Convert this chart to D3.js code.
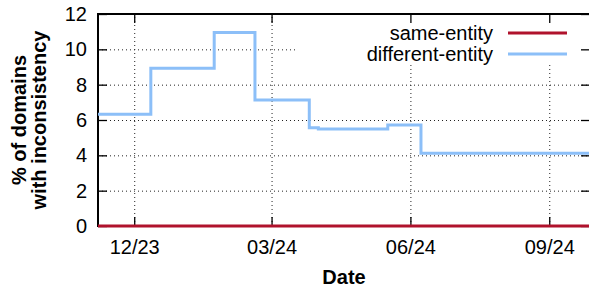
<!DOCTYPE html>
<html>
<head>
<meta charset="utf-8">
<script src="https://cdn.jsdelivr.net/npm/d3@7"></script>
<style>
  body { margin: 0; background: #fff; }
  text { font-family: "Liberation Sans", Arial, sans-serif; fill: #000; }
</style>
</head>
<body>
<div class="chart"></div>
<script>

// step change dates and values
var stepDates = ["2023-11-07", "2023-12-12", "2024-01-23", "2024-02-19", "2024-03-26", "2024-04-01", "2024-05-17", "2024-06-08", "2024-09-28"];
var differentEntity = [6.33, 8.93, 10.95, 7.13, 5.56, 5.49, 5.72, 4.12, 4.12];
var sameEntity = [0, 0, 0, 0, 0, 0, 0, 0, 0];

var seriesNames = ["same-entity", "different-entity"];
var seriesColors = ["#b0122c", "#8cbff8"];

var xTickDates = ["2023-12-01", "2024-03-01", "2024-06-01", "2024-09-01"];
var yTicks = [0, 2, 4, 6, 8, 10, 12];

var yTitle = ["% of domains", "with inconsistency"];
var xTitle = "Date";

var parse = d3.timeParse("%Y-%m-%d");

function drawChart() {

    var width = 589, height = 290;
    var left = 98, right = 590, top = 14, bottom = 226;

    var svg = d3.select(".chart").append("svg")
        .attr("width", width)
        .attr("height", height);

    var x = d3.scaleTime()
        .domain([parse(stepDates[0]), parse(stepDates[stepDates.length - 1])])
        .range([left, right]);

    var y = d3.scaleLinear()
        .domain([0, 12])
        .range([bottom, top]);

    var xTicks = xTickDates.map(parse);

    // grid
    svg.append("g")
        .attr("transform", "translate(0," + bottom + ")")
        .call(d3.axisBottom(x).tickValues(xTicks).tickSize(-(bottom - top)).tickFormat(""))
        .call(function (g) { g.select(".domain").remove(); })
        .selectAll("line")
        .attr("stroke", "#222")
        .attr("stroke-dasharray", "1,3");

    svg.append("g")
        .attr("transform", "translate(" + left + ",0)")
        .call(d3.axisLeft(y).tickValues(yTicks.slice(1, -1)).tickSize(-(right - left)).tickFormat(""))
        .call(function (g) { g.select(".domain").remove(); })
        .selectAll("line")
        .attr("stroke", "#222")
        .attr("stroke-dasharray", "1,3");

    // legend box covers the grid
    svg.append("rect")
        .attr("x", 297)
        .attr("y", top + 1)
        .attr("width", right - 297)
        .attr("height", 49)
        .attr("fill", "#fff");

    // ticks (inward, mirrored)
    svg.append("g")
        .attr("transform", "translate(0," + bottom + ")")
        .call(d3.axisBottom(x).tickValues(xTicks).tickSize(-9).tickFormat(d3.timeFormat("%m/%y")).tickPadding(12))
        .call(function (g) {
            g.select(".domain").remove();
            g.selectAll("line").attr("stroke", "#000").attr("stroke-width", 1.3);
            g.selectAll("text").style("font-size", "20px").attr("dy", "0.8em");
        });

    svg.append("g")
        .attr("transform", "translate(0," + top + ")")
        .call(d3.axisTop(x).tickValues(xTicks).tickSize(-9).tickFormat(""))
        .call(function (g) {
            g.select(".domain").remove();
            g.selectAll("line").attr("stroke", "#000").attr("stroke-width", 1.3);
        });

    svg.append("g")
        .attr("transform", "translate(" + left + ",0)")
        .call(d3.axisLeft(y).tickValues(yTicks).tickSize(-9).tickPadding(11))
        .call(function (g) {
            g.select(".domain").remove();
            g.selectAll("line").attr("stroke", "#000").attr("stroke-width", 1.3);
            g.selectAll("text").style("font-size", "20px");
        });

    svg.append("g")
        .attr("transform", "translate(" + right + ",0)")
        .call(d3.axisRight(y).tickValues(yTicks).tickSize(-9).tickFormat(""))
        .call(function (g) {
            g.select(".domain").remove();
            g.selectAll("line").attr("stroke", "#000").attr("stroke-width", 1.3);
        });

    // border
    svg.append("path")
        .attr("d", "M" + right + "," + top + "H" + left + "V" + bottom + "H" + right + "Z")
        .attr("fill", "none")
        .attr("stroke", "#000")
        .attr("stroke-width", 2);

    // series
    var line = d3.line()
        .curve(d3.curveStepAfter)
        .x(function (d) { return x(d.date); })
        .y(function (d) { return y(d.value); });

    var seriesValues = [sameEntity, differentEntity];

    seriesValues.forEach(function (vals, i) {
        var pts = stepDates.map(function (s, j) { return { date: parse(s), value: vals[j] }; });
        svg.append("path")
            .datum(pts)
            .attr("fill", "none")
            .attr("stroke", seriesColors[i])
            .attr("stroke-width", 3)
            .attr("d", line);
    });

    // legend
    seriesNames.forEach(function (name, i) {
        var ly = 33 + i * 21;
        svg.append("text")
            .attr("x", 493)
            .attr("y", ly)
            .attr("dy", "0.35em")
            .attr("text-anchor", "end")
            .style("font-size", "20px")
            .text(name);
        svg.append("line")
            .attr("x1", 508)
            .attr("x2", 567)
            .attr("y1", ly)
            .attr("y2", ly)
            .attr("stroke", seriesColors[i])
            .attr("stroke-width", 3);
    });

    // titles
    svg.append("text")
        .attr("x", (left + right) / 2)
        .attr("y", 284)
        .attr("text-anchor", "middle")
        .style("font-size", "20px")
        .style("font-weight", "bold")
        .text(xTitle);

    var yt = svg.append("text")
        .attr("transform", "translate(0," + ((top + bottom) / 2) + ") rotate(-90)")
        .attr("text-anchor", "middle")
        .style("font-size", "20px")
        .style("font-weight", "bold");

    yt.selectAll("tspan")
        .data(yTitle)
        .enter().append("tspan")
        .attr("x", 0)
        .attr("y", function (d, i) { return 26 + i * 20; })
        .text(function (d) { return d; });
}

drawChart();

</script>
</body>
</html>
